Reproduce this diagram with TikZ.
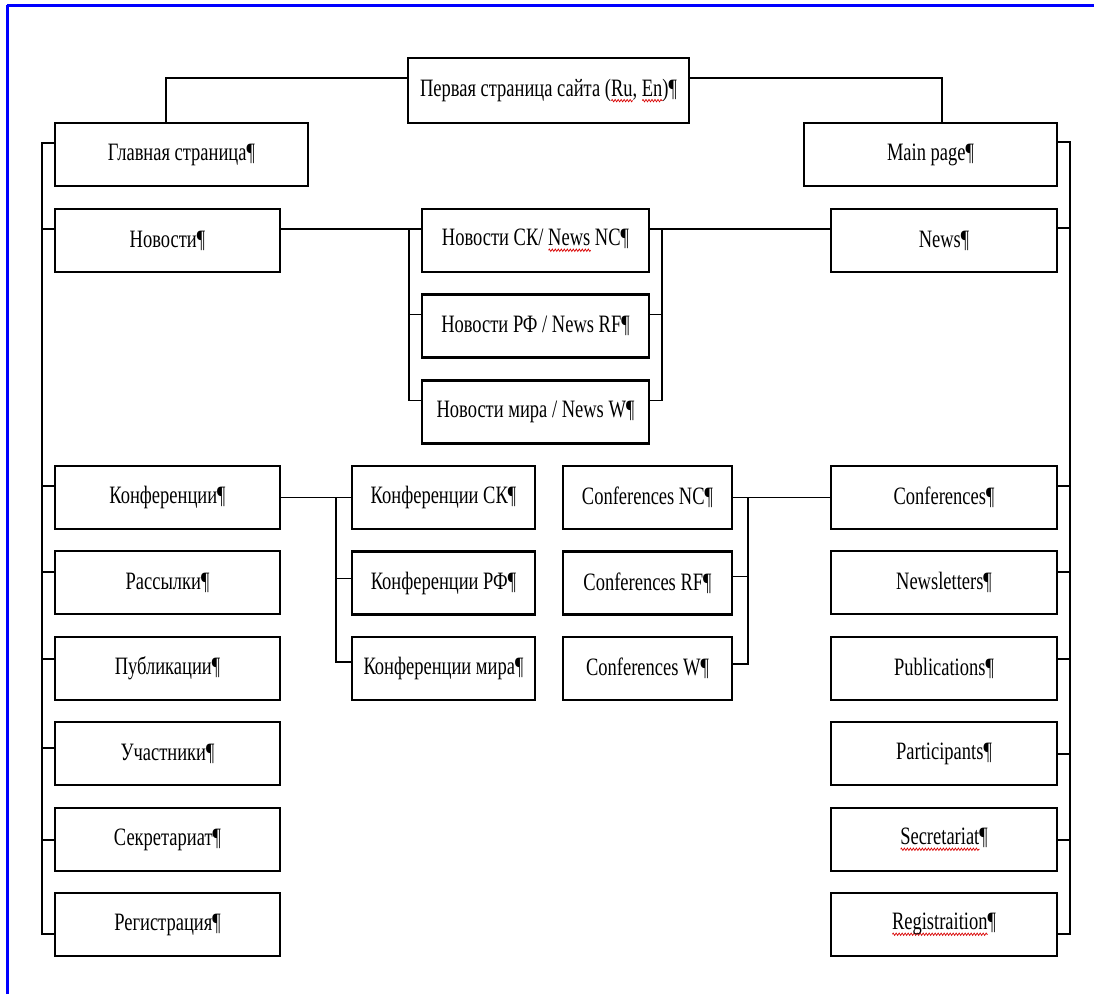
\documentclass[tikz,border=0pt]{standalone}
\usepackage{fontspec}
\setmainfont{Liberation Serif}[FakeStretch=0.74]
\usetikzlibrary{decorations.pathmorphing}
\newsavebox\sqbox
\newcommand\sqw[1]{\sbox\sqbox{#1}\leavevmode\rlap{\raisebox{-6pt}{\tikz[x=1pt,y=1pt]\draw[red!85!black,line width=0.7pt,decorate,decoration={zigzag,amplitude=1.2pt,segment length=3pt}] (0,0) -- (\wd\sqbox,0);}}\usebox\sqbox}
\begin{document}
\begin{tikzpicture}[x=1pt,y=-1pt,
  box/.style={draw, line width=2.2pt, inner sep=0pt, minimum height=63pt,
    font=\fontsize{25}{29}\selectfont},
  lcol/.style={box, minimum width=225pt},
  rcol/.style={box, minimum width=226pt},
  conn/.style={line width=1.8pt}]
\useasboundingbox (0,0) rectangle (1094,994);
\fill[white] (0,0) rectangle (1094,994);
\draw[blue, line width=3pt] (7,5) -- (1094,5);
\draw[blue, line width=3pt] (7,5) -- (7,994);

% top level
\node[box, minimum width=281pt, minimum height=65pt] (top) at (548.5,90.5) {Первая страница сайта (\sqw{Ru}, \sqw{En})¶};
\node[box, minimum width=253pt] (glav) at (181.5,154.5) {Главная страница¶};
\node[box, minimum width=253pt] (main) at (930.5,154.5) {Main page¶};

% left column
\node[lcol] (nov)  at (167.5,240.5) {Новости¶};
\node[lcol] (konf) at (167.5,497.5) {Конференции¶};
\node[lcol] (rass) at (167.5,582.5) {Рассылки¶};
\node[lcol] (pub)  at (167.5,668.5) {Публикации¶};
\node[lcol] (uch)  at (167.5,753.5) {Участники¶};
\node[lcol] (sek)  at (167.5,839.5) {Секретариат¶};
\node[lcol] (reg)  at (167.5,924.5) {Регистрация¶};

% right column
\node[rcol] (news) at (944,240.5) {News¶};
\node[rcol] (conf) at (944,497.5) {Conferences¶};
\node[rcol] (nl)   at (944,582.5) {Newsletters¶};
\node[rcol] (pubs) at (944,668.5) {Publications¶};
\node[rcol] (part) at (944,753.5) {Participants¶};
\node[rcol] (secr) at (944,839.5) {\sqw{Secretariat}¶};
\node[rcol] (regs) at (944,924.5) {\sqw{Registraition}¶};

% news group
\node[box, minimum width=227pt] (novsk) at (535.5,240.5) {Новости СК/ \sqw{News} NC¶};
\node[box, minimum width=227pt] (novrf) at (535.5,326) {Новости РФ / News RF¶};
\node[box, minimum width=227pt] (novw)  at (535.5,412) {Новости мира / News W¶};

% conferences groups
\node[box, minimum width=183pt] (ksk) at (443.5,497.5) {Конференции СК¶};
\node[box, minimum width=183pt] (krf) at (443.5,583) {Конференции РФ¶};
\node[box, minimum width=183pt] (kw)  at (443.5,668.5) {Конференции мира¶};
\node[box, minimum width=169pt] (cnc) at (647.5,497.5) {Conferences NC¶};
\node[box, minimum width=169pt] (crf) at (647.5,583) {Conferences RF¶};
\node[box, minimum width=169pt] (cw)  at (647.5,668.5) {Conferences W¶};

% top connectors
\draw[conn] ([yshift=-21pt]top.north west) -| ([xshift=112pt]glav.north west);
\draw[conn] ([yshift=-21pt]top.north east) -| ([xshift=139pt]main.north west);

% left spine
\coordinate (LT) at (42,144);
\coordinate (LB) at (42,935);
\draw[conn] (LT) -- (LB);
\draw[conn] ([yshift=-21pt]glav.north west) -- ++(-13,0);
\draw[conn] ([yshift=-21pt]nov.north west) -- ++(-13,0);
\draw[conn] ([yshift=-21pt]konf.north west) -- ++(-13,0);
\draw[conn] ([yshift=-22pt]rass.north west) -- ++(-13,0);
\draw[conn] ([yshift=-23pt]pub.north west) -- ++(-13,0);
\draw[conn] ([yshift=-27pt]uch.north west) -- ++(-13,0);
\draw[conn] ([yshift=-33pt]sek.north west) -- ++(-13,0);
\draw[conn] ([yshift=-42pt]reg.north west) -- ++(-13,0);

% right spine
\coordinate (RT) at (1070,143);
\coordinate (RB) at (1070,935);
\draw[conn] (RT) -- (RB);
\draw[conn] ([yshift=-20pt]main.north east) -- ++(13,0);
\draw[conn] ([yshift=-20pt]news.north east) -- ++(13,0);
\draw[conn] ([yshift=-21pt]conf.north east) -- ++(13,0);
\draw[conn] ([yshift=-22pt]nl.north east) -- ++(13,0);
\draw[conn] ([yshift=-23pt]pubs.north east) -- ++(13,0);
\draw[conn] ([yshift=-33pt]part.north east) -- ++(13,0);
\draw[conn] ([yshift=-33pt]secr.north east) -- ++(13,0);
\draw[conn] ([yshift=-42pt]regs.north east) -- ++(13,0);

% news connectors
\draw[conn] ([yshift=-21pt]nov.north east) -- ([yshift=-21pt]novsk.north west);
\draw[conn] ([xshift=-12pt,yshift=-21pt]novsk.north west) |- ([yshift=-21pt]novw.north west);
\draw[conn] ([yshift=-21pt]novrf.north west) -- ++(-12,0);
\draw[conn] ([yshift=-21pt]novsk.north east) -- ([yshift=-21pt]news.north west);
\draw[conn] ([xshift=12pt,yshift=-21pt]novsk.north east) |- ([yshift=-21pt]novw.north east);
\draw[conn] ([yshift=-21pt]novrf.north east) -- ++(12,0);

% conference connectors
\draw[conn] (konf.east) -- (ksk.west);
\draw[conn] ([xshift=-15pt]ksk.west) |- ([yshift=-26pt]kw.north west);
\draw[conn] ([yshift=-28pt]krf.north west) -- ++(-15,0);
\draw[conn] (cnc.east) -- (conf.west);
\draw[conn] ([xshift=15pt]cnc.east) |- ([yshift=-28pt]cw.north east);
\draw[conn] ([yshift=-26pt]crf.north east) -- ++(15,0);
\end{tikzpicture}
\end{document}
